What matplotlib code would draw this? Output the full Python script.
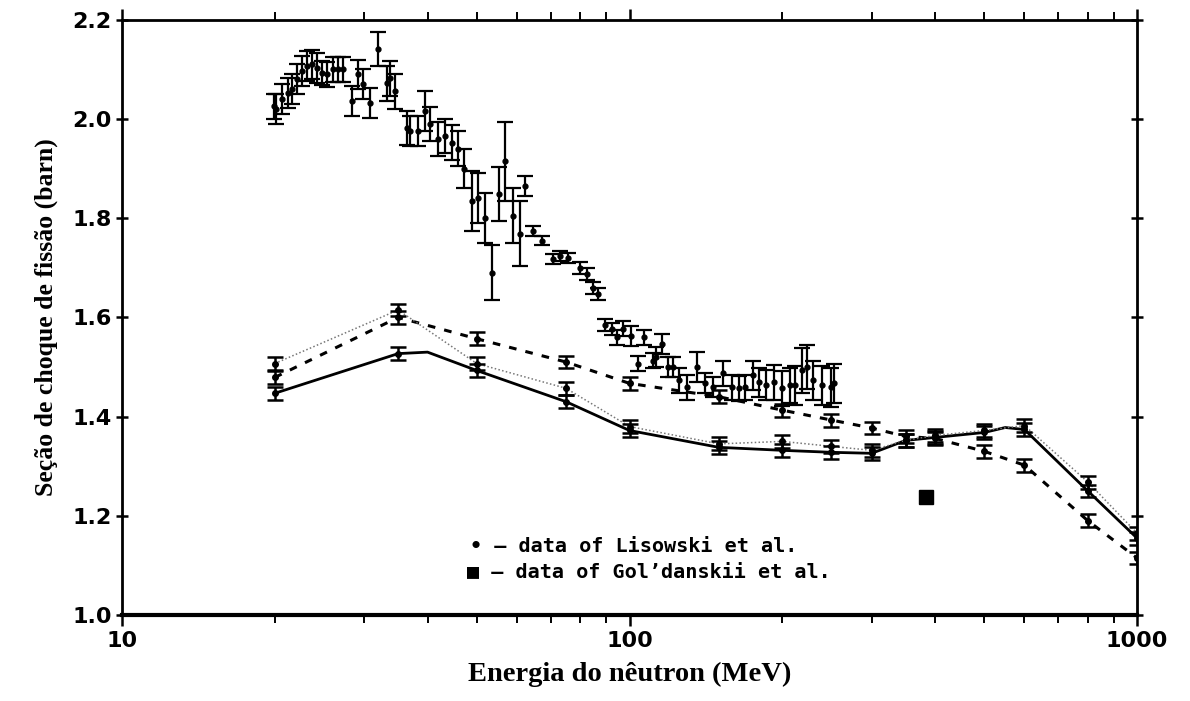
import matplotlib
matplotlib.use('Agg')
from matplotlib import pyplot as plt
from matplotlib.ticker import FixedLocator, NullFormatter

# energies (MeV) where the calculated curves carry error bars
e_grid = [20, 35, 50, 75, 100, 150, 200, 250, 300, 350, 400, 500, 600, 800, 1000]
solid_vals = [1.447, 1.527, 1.493, 1.430, 1.372, 1.338, 1.332, 1.328, 1.326,
              1.352, 1.358, 1.368, 1.374, 1.250, 1.155]
dashed_vals = [1.479, 1.600, 1.557, 1.510, 1.467, 1.440, 1.413, 1.393, 1.377,
               1.360, 1.356, 1.330, 1.302, 1.190, 1.115]
dotted_vals = [1.507, 1.615, 1.507, 1.457, 1.380, 1.345, 1.350, 1.340, 1.332,
               1.352, 1.362, 1.372, 1.382, 1.268, 1.165]
model_err = 0.013

# the solid curve is flat near its maxima
solid_line_e = [20, 35, 40, 50, 75, 100, 150, 200, 250, 300, 350, 400, 500, 550, 600, 800, 1000]
solid_line_v = [1.447, 1.527, 1.530, 1.493, 1.430, 1.372, 1.338, 1.332, 1.328, 1.326,
                1.352, 1.358, 1.368, 1.378, 1.374, 1.250, 1.155]

# Lisowski et al.
lis_e = [19.9, 20.1, 20.7, 21.2, 21.6, 22.1, 22.6, 23.1, 23.7, 24.2, 24.8, 25.4,
         26.0, 26.6, 27.3, 28.4, 29.2, 29.8, 30.8, 31.9, 33.3, 33.7, 34.5, 36.5,
         37.0, 38.3, 39.5, 40.5, 41.9, 43.3, 44.7, 45.9, 47.3, 48.9, 50.3, 51.9,
         53.6, 55.4, 56.9, 58.9, 60.9, 62.3, 64.5, 67.2, 70.7, 73.1, 75.8, 80.0,
         82.6, 84.9, 86.8, 89.5, 92.3, 94.4, 97.2, 100.5, 104, 107, 111, 113,
         116, 119, 122, 125, 130, 136, 141, 146, 153, 159, 164, 169, 175, 180,
         186, 193, 200, 207, 212, 219, 224, 230, 240, 250, 253]
lis_v = [2.026, 2.020, 2.040, 2.052, 2.060, 2.080, 2.097, 2.107, 2.110, 2.103,
         2.093, 2.090, 2.100, 2.100, 2.100, 2.036, 2.090, 2.070, 2.032, 2.141,
         2.072, 2.082, 2.056, 1.982, 1.976, 1.976, 2.016, 1.990, 1.960, 1.966,
         1.952, 1.940, 1.900, 1.835, 1.841, 1.800, 1.690, 1.849, 1.915, 1.805,
         1.769, 1.865, 1.775, 1.755, 1.718, 1.724, 1.720, 1.700, 1.688, 1.660,
         1.648, 1.584, 1.577, 1.560, 1.577, 1.563, 1.507, 1.560, 1.513, 1.520,
         1.547, 1.500, 1.500, 1.473, 1.459, 1.500, 1.467, 1.459, 1.487, 1.459,
         1.457, 1.459, 1.483, 1.469, 1.463, 1.469, 1.457, 1.463, 1.463, 1.493,
         1.500, 1.473, 1.463, 1.459, 1.467]
lis_err = [0.025, 0.030, 0.030, 0.030, 0.030, 0.030, 0.030, 0.030, 0.030, 0.030,
           0.025, 0.025, 0.025, 0.025, 0.025, 0.030, 0.030, 0.030, 0.030, 0.035,
           0.035, 0.035, 0.035, 0.035, 0.030, 0.030, 0.040, 0.035, 0.035, 0.035,
           0.035, 0.035, 0.040, 0.060, 0.050, 0.050, 0.055, 0.055, 0.080, 0.055,
           0.065, 0.020, 0.010, 0.010, 0.010, 0.010, 0.010, 0.012, 0.012, 0.012,
           0.012, 0.012, 0.012, 0.015, 0.015, 0.020, 0.015, 0.015, 0.015, 0.020,
           0.020, 0.020, 0.020, 0.025, 0.025, 0.030, 0.020, 0.020, 0.025, 0.025,
           0.025, 0.025, 0.030, 0.030, 0.030, 0.035, 0.035, 0.035, 0.040, 0.045,
           0.045, 0.040, 0.040, 0.040, 0.040]

# Gol'danskii et al.
gol_e = [384]
gol_v = [1.237]

fig = plt.figure(figsize=(11.9, 7.01), dpi=100)
ax = fig.add_axes([0.1025, 0.1227, 0.853, 0.849])

ax.plot(solid_line_e, solid_line_v, '-', color='black', lw=2.0)
ax.plot(e_grid, dashed_vals, color='black', lw=2.2, linestyle=(0, (2.5, 3)))
ax.plot(e_grid, dotted_vals, color='#777777', lw=1.1, linestyle=(0, (1, 1.5)))

for vals in (solid_vals, dashed_vals, dotted_vals):
    ax.errorbar(e_grid, vals, yerr=model_err, fmt='o', ms=4, color='black',
                ecolor='black', elinewidth=1.8, capsize=6, capthick=1.8)

ax.errorbar(lis_e, lis_v, yerr=lis_err, fmt='o', ms=3.5, color='black',
            ecolor='black', elinewidth=1.6, capsize=6, capthick=1.6)
ax.plot(gol_e, gol_v, 's', color='black', ms=10)

ax.set_xscale('log')
ax.set_xlim(10, 1000)
ax.set_ylim(1.0, 2.2)
ax.set_xticks([10, 100, 1000])
ax.set_xticklabels(['10', '100', '1000'])
ax.xaxis.set_minor_locator(FixedLocator([20, 30, 40, 50, 60, 70, 80, 90,
                                         200, 300, 400, 500, 600, 700, 800, 900]))
ax.xaxis.set_minor_formatter(NullFormatter())
ax.set_yticks([1.0, 1.2, 1.4, 1.6, 1.8, 2.0, 2.2])
ax.set_yticklabels(['1.0', '1.2', '1.4', '1.6', '1.8', '2.0', '2.2'])

for lab in ax.get_xticklabels() + ax.get_yticklabels():
    lab.set_family('DejaVu Sans')
    lab.set_weight('bold')
    lab.set_fontsize(16)

ax.tick_params(axis='both', which='major', length=8, width=1.8, direction='out')
ax.tick_params(axis='x', which='minor', length=6, width=1.4, direction='out')
ax.tick_params(axis='y', which='both', right=True, direction='inout')
ax.tick_params(axis='x', which='both', top=True)

for sp in ax.spines.values():
    sp.set_linewidth(2.0)
ax.spines['bottom'].set_linewidth(3.0)

ax.set_xlabel('Energia do nêutron (MeV)', family='Liberation Serif',
              fontweight='bold', fontsize=20.5, labelpad=8)
ax.set_ylabel('Seção de choque de fissão (barn)', family='Liberation Serif',
              fontweight='bold', fontsize=18.5, labelpad=10)

ax.text(0.343, 0.105, '• — data of Lisowski et al.', transform=ax.transAxes,
        family='DejaVu Sans Mono', fontweight='bold', fontsize=14.5)
ax.text(0.340, 0.063, '■ — data of Gol\u2019danskii et al.', transform=ax.transAxes,
        family='DejaVu Sans Mono', fontweight='bold', fontsize=14.5)

fig.savefig('out.png', dpi=100)
